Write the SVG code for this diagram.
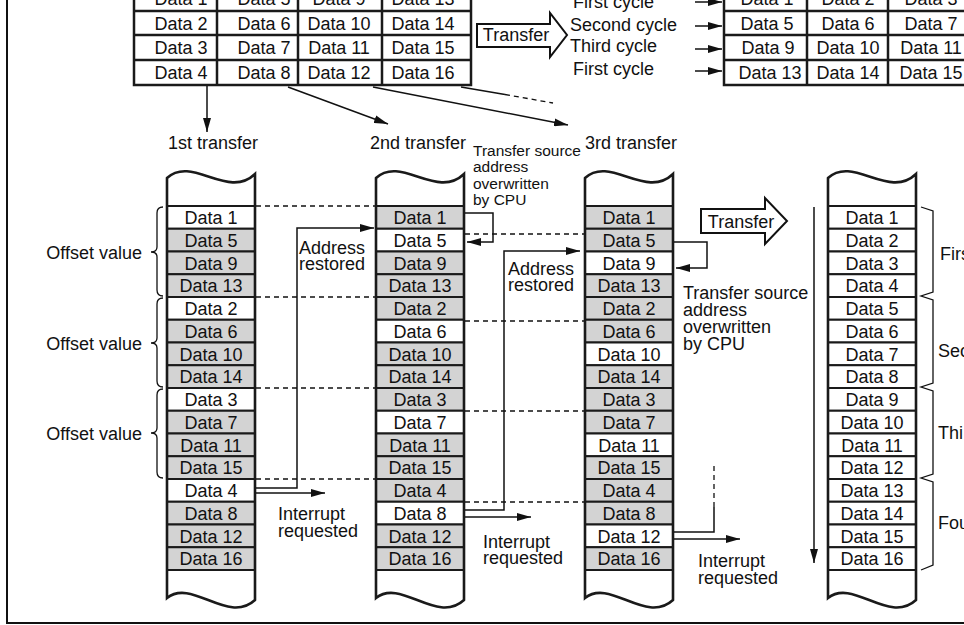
<svg xmlns="http://www.w3.org/2000/svg" width="964" height="625" viewBox="0 0 964 625">
<defs>
<style>
text{font-family:"Liberation Sans",Arial,sans-serif;font-size:18px;fill:#111}
.c{text-anchor:middle}
.e{text-anchor:end}
.s{font-size:15.5px}
.tb{fill:#fff;stroke:#1a1a1a;stroke-width:2.5}
.tl{stroke:#1a1a1a;stroke-width:2.5;fill:none}
.colfill{fill:#fff;stroke:none}
.colline{fill:none;stroke:#1a1a1a;stroke-width:2.6;stroke-linejoin:miter}
.g{fill:#d3d3d3;stroke:#1a1a1a;stroke-width:2}
.w{fill:#fff;stroke:#1a1a1a;stroke-width:2}
.ln{fill:none;stroke:#111;stroke-width:1.5}
.ar{fill:none;stroke:#111;stroke-width:1.5;marker-end:url(#ah)}
.da{fill:none;stroke:#111;stroke-width:1.3;stroke-dasharray:5 4}
.br{fill:none;stroke:#111;stroke-width:1.3}
.big{fill:#fff;stroke:#111;stroke-width:2;stroke-linejoin:miter}
</style>
<marker id="ah" markerWidth="14" markerHeight="8" refX="14" refY="4" orient="auto" markerUnits="userSpaceOnUse">
<path d="M0,0 L14,4 L0,8 z" fill="#111"/>
</marker>
</defs>
<rect width="964" height="625" fill="#fff"/>
<g id="frame">
<path d="M7,0 L7,623 L964,623" fill="none" stroke="#111" stroke-width="2"/>
</g>

<g id="source-table">
<rect class="tb" x="134" y="-14" width="337" height="99"/>
<path class="tl" d="M134,11 H471 M134,35 H471 M134,60 H471 M217,-14 V85 M298,-14 V85 M382,-14 V85"/>
<text class="c" x="181" y="5">Data 1</text><text class="c" x="264" y="5">Data 5</text><text class="c" x="339" y="5">Data 9</text><text class="c" x="423" y="5">Data 13</text>
<text class="c" x="181" y="29.5">Data 2</text><text class="c" x="264" y="29.5">Data 6</text><text class="c" x="339" y="29.5">Data 10</text><text class="c" x="423" y="29.5">Data 14</text>
<text class="c" x="181" y="54">Data 3</text><text class="c" x="264" y="54">Data 7</text><text class="c" x="339" y="54">Data 11</text><text class="c" x="423" y="54">Data 15</text>
<text class="c" x="181" y="79">Data 4</text><text class="c" x="264" y="79">Data 8</text><text class="c" x="339" y="79">Data 12</text><text class="c" x="423" y="79">Data 16</text>
</g>

<g id="transfer-arrow-top">
<path class="big" d="M477,24 L550,24 L550,13 L567,35 L550,57 L550,47 L477,47 Z"/>
<text class="c" x="516" y="41">Transfer</text>
</g>

<g id="cycle-labels">
<text x="573" y="8">First cycle</text>
<text x="570" y="30.5">Second cycle</text>
<text x="570" y="51.5">Third cycle</text>
<text x="573" y="74.5">First cycle</text>
</g>

<g id="dest-table">
<rect class="tb" x="724" y="-14" width="300" height="99"/>
<path class="tl" d="M724,11 H1024 M724,35 H1024 M724,60 H1024 M807,-14 V85 M888,-14 V85 M970,-14 V85"/>
<text class="c" x="767" y="5">Data 1</text><text class="c" x="848" y="5">Data 2</text><text class="c" x="931" y="5">Data 3</text>
<text class="c" x="767" y="29.5">Data 5</text><text class="c" x="848" y="29.5">Data 6</text><text class="c" x="931" y="29.5">Data 7</text>
<text class="c" x="768" y="54">Data 9</text><text class="c" x="848" y="54">Data 10</text><text class="c" x="931" y="54">Data 11</text>
<text class="c" x="770" y="79">Data 13</text><text class="c" x="848" y="79">Data 14</text><text class="c" x="931" y="79">Data 15</text>
</g>

<g id="transfer-labels">
<text x="168" y="148.5">1st transfer</text>
<text x="370" y="149">2nd transfer</text>
<text x="585" y="149">3rd transfer</text>
<text class="s" x="473" y="155.5">Transfer source<tspan x="473" dy="16.5">address</tspan><tspan x="473" dy="16.5">overwritten</tspan><tspan x="473" dy="16.5">by CPU</tspan></text>
</g>

<g id="col1">
<path class="colfill" d="M167,178 C192,155 228,200 255,174 L255,600 C228,625 192,578 167,598 Z"/>
<rect class="w" x="167" y="206" width="88" height="22.75"/><text class="c" x="211" y="224">Data 1</text>
<rect class="g" x="167" y="228.75" width="88" height="22.75"/><text class="c" x="211" y="246.75">Data 5</text>
<rect class="g" x="167" y="251.5" width="88" height="22.75"/><text class="c" x="211" y="269.5">Data 9</text>
<rect class="g" x="167" y="274.25" width="88" height="22.75"/><text class="c" x="211" y="292.25">Data 13</text>
<rect class="w" x="167" y="297" width="88" height="22.75"/><text class="c" x="211" y="315">Data 2</text>
<rect class="g" x="167" y="319.75" width="88" height="22.75"/><text class="c" x="211" y="337.75">Data 6</text>
<rect class="g" x="167" y="342.5" width="88" height="22.75"/><text class="c" x="211" y="360.5">Data 10</text>
<rect class="g" x="167" y="365.25" width="88" height="22.75"/><text class="c" x="211" y="383.25">Data 14</text>
<rect class="w" x="167" y="388" width="88" height="22.75"/><text class="c" x="211" y="406">Data 3</text>
<rect class="g" x="167" y="410.75" width="88" height="22.75"/><text class="c" x="211" y="428.75">Data 7</text>
<rect class="g" x="167" y="433.5" width="88" height="22.75"/><text class="c" x="211" y="451.5">Data 11</text>
<rect class="g" x="167" y="456.25" width="88" height="22.75"/><text class="c" x="211" y="474.25">Data 15</text>
<rect class="w" x="167" y="479" width="88" height="22.75"/><text class="c" x="211" y="497">Data 4</text>
<rect class="g" x="167" y="501.75" width="88" height="22.75"/><text class="c" x="211" y="519.75">Data 8</text>
<rect class="g" x="167" y="524.5" width="88" height="22.75"/><text class="c" x="211" y="542.5">Data 12</text>
<rect class="g" x="167" y="547.25" width="88" height="22.75"/><text class="c" x="211" y="565.25">Data 16</text>
<path class="colline" d="M167,178 C192,155 228,200 255,174 L255,600 C228,625 192,578 167,598 Z"/>
</g>

<g id="col2">
<path class="colfill" d="M376,178 C401,155 437,200 464,174 L464,600 C437,625 401,578 376,598 Z"/>
<rect class="g" x="376" y="206" width="88" height="22.75"/><text class="c" x="420" y="224">Data 1</text>
<rect class="w" x="376" y="228.75" width="88" height="22.75"/><text class="c" x="420" y="246.75">Data 5</text>
<rect class="g" x="376" y="251.5" width="88" height="22.75"/><text class="c" x="420" y="269.5">Data 9</text>
<rect class="g" x="376" y="274.25" width="88" height="22.75"/><text class="c" x="420" y="292.25">Data 13</text>
<rect class="g" x="376" y="297" width="88" height="22.75"/><text class="c" x="420" y="315">Data 2</text>
<rect class="w" x="376" y="319.75" width="88" height="22.75"/><text class="c" x="420" y="337.75">Data 6</text>
<rect class="g" x="376" y="342.5" width="88" height="22.75"/><text class="c" x="420" y="360.5">Data 10</text>
<rect class="g" x="376" y="365.25" width="88" height="22.75"/><text class="c" x="420" y="383.25">Data 14</text>
<rect class="g" x="376" y="388" width="88" height="22.75"/><text class="c" x="420" y="406">Data 3</text>
<rect class="w" x="376" y="410.75" width="88" height="22.75"/><text class="c" x="420" y="428.75">Data 7</text>
<rect class="g" x="376" y="433.5" width="88" height="22.75"/><text class="c" x="420" y="451.5">Data 11</text>
<rect class="g" x="376" y="456.25" width="88" height="22.75"/><text class="c" x="420" y="474.25">Data 15</text>
<rect class="g" x="376" y="479" width="88" height="22.75"/><text class="c" x="420" y="497">Data 4</text>
<rect class="w" x="376" y="501.75" width="88" height="22.75"/><text class="c" x="420" y="519.75">Data 8</text>
<rect class="g" x="376" y="524.5" width="88" height="22.75"/><text class="c" x="420" y="542.5">Data 12</text>
<rect class="g" x="376" y="547.25" width="88" height="22.75"/><text class="c" x="420" y="565.25">Data 16</text>
<path class="colline" d="M376,178 C401,155 437,200 464,174 L464,600 C437,625 401,578 376,598 Z"/>
</g>

<g id="col3">
<path class="colfill" d="M585,178 C610,155 646,200 673,174 L673,600 C646,625 610,578 585,598 Z"/>
<rect class="g" x="585" y="206" width="88" height="22.75"/><text class="c" x="629" y="224">Data 1</text>
<rect class="g" x="585" y="228.75" width="88" height="22.75"/><text class="c" x="629" y="246.75">Data 5</text>
<rect class="w" x="585" y="251.5" width="88" height="22.75"/><text class="c" x="629" y="269.5">Data 9</text>
<rect class="g" x="585" y="274.25" width="88" height="22.75"/><text class="c" x="629" y="292.25">Data 13</text>
<rect class="g" x="585" y="297" width="88" height="22.75"/><text class="c" x="629" y="315">Data 2</text>
<rect class="g" x="585" y="319.75" width="88" height="22.75"/><text class="c" x="629" y="337.75">Data 6</text>
<rect class="w" x="585" y="342.5" width="88" height="22.75"/><text class="c" x="629" y="360.5">Data 10</text>
<rect class="g" x="585" y="365.25" width="88" height="22.75"/><text class="c" x="629" y="383.25">Data 14</text>
<rect class="g" x="585" y="388" width="88" height="22.75"/><text class="c" x="629" y="406">Data 3</text>
<rect class="g" x="585" y="410.75" width="88" height="22.75"/><text class="c" x="629" y="428.75">Data 7</text>
<rect class="w" x="585" y="433.5" width="88" height="22.75"/><text class="c" x="629" y="451.5">Data 11</text>
<rect class="g" x="585" y="456.25" width="88" height="22.75"/><text class="c" x="629" y="474.25">Data 15</text>
<rect class="g" x="585" y="479" width="88" height="22.75"/><text class="c" x="629" y="497">Data 4</text>
<rect class="g" x="585" y="501.75" width="88" height="22.75"/><text class="c" x="629" y="519.75">Data 8</text>
<rect class="w" x="585" y="524.5" width="88" height="22.75"/><text class="c" x="629" y="542.5">Data 12</text>
<rect class="g" x="585" y="547.25" width="88" height="22.75"/><text class="c" x="629" y="565.25">Data 16</text>
<path class="colline" d="M585,178 C610,155 646,200 673,174 L673,600 C646,625 610,578 585,598 Z"/>
</g>

<g id="col4">
<path class="colfill" d="M828,178 C853,155 889,200 916,174 L916,600 C889,625 853,578 828,598 Z"/>
<rect class="w" x="828" y="206" width="88" height="22.75"/><text class="c" x="872" y="224">Data 1</text>
<rect class="w" x="828" y="228.75" width="88" height="22.75"/><text class="c" x="872" y="246.75">Data 2</text>
<rect class="w" x="828" y="251.5" width="88" height="22.75"/><text class="c" x="872" y="269.5">Data 3</text>
<rect class="w" x="828" y="274.25" width="88" height="22.75"/><text class="c" x="872" y="292.25">Data 4</text>
<rect class="w" x="828" y="297" width="88" height="22.75"/><text class="c" x="872" y="315">Data 5</text>
<rect class="w" x="828" y="319.75" width="88" height="22.75"/><text class="c" x="872" y="337.75">Data 6</text>
<rect class="w" x="828" y="342.5" width="88" height="22.75"/><text class="c" x="872" y="360.5">Data 7</text>
<rect class="w" x="828" y="365.25" width="88" height="22.75"/><text class="c" x="872" y="383.25">Data 8</text>
<rect class="w" x="828" y="388" width="88" height="22.75"/><text class="c" x="872" y="406">Data 9</text>
<rect class="w" x="828" y="410.75" width="88" height="22.75"/><text class="c" x="872" y="428.75">Data 10</text>
<rect class="w" x="828" y="433.5" width="88" height="22.75"/><text class="c" x="872" y="451.5">Data 11</text>
<rect class="w" x="828" y="456.25" width="88" height="22.75"/><text class="c" x="872" y="474.25">Data 12</text>
<rect class="w" x="828" y="479" width="88" height="22.75"/><text class="c" x="872" y="497">Data 13</text>
<rect class="w" x="828" y="501.75" width="88" height="22.75"/><text class="c" x="872" y="519.75">Data 14</text>
<rect class="w" x="828" y="524.5" width="88" height="22.75"/><text class="c" x="872" y="542.5">Data 15</text>
<rect class="w" x="828" y="547.25" width="88" height="22.75"/><text class="c" x="872" y="565.25">Data 16</text>
<path class="colline" d="M828,178 C853,155 889,200 916,174 L916,600 C889,625 853,578 828,598 Z"/>
</g>

<g id="offset-braces">
<path class="br" d="M163,207 Q157,207 157,213 L157,247 Q157,252 151,252 Q157,252 157,257 L157,290 Q157,296 163,296"/>
<path class="br" d="M163,298 Q157,298 157,304 L157,338 Q157,343 151,343 Q157,343 157,348 L157,381 Q157,387 163,387"/>
<path class="br" d="M163,389 Q157,389 157,395 L157,428 Q157,433 151,433 Q157,433 157,438 L157,472 Q157,478 163,478"/>
<text class="e" x="142" y="258.5">Offset value</text>
<text class="e" x="142" y="349.5">Offset value</text>
<text class="e" x="142" y="439.5">Offset value</text>
</g>

<g id="cycle-brackets">
<path class="br" d="M921,207 L933,211 L933,292 L921,296 L933,300 L933,383 L921,387 L933,391 L933,474 L921,478 L933,482 L933,565 L921,570"/>
<text x="940" y="259.5">Firs</text>
<text x="938" y="356.5">Sec</text>
<text x="938" y="438.5">Thi</text>
<text x="938" y="528.5">Fou</text>
</g>

<g id="transfer-arrow-mid">
<path class="big" d="M701,209 L765,209 L765,198 L787,221 L765,244 L765,233 L701,233 Z"/>
<text class="c" x="741" y="227.5">Transfer</text>
</g>

<g id="labels">
<text x="299" y="253.5">Address<tspan x="299" dy="16">restored</tspan></text>
<text x="508" y="274.5">Address<tspan x="508" dy="16.5">restored</tspan></text>
<text x="278" y="519.5">Interrupt<tspan x="278" dy="17">requested</tspan></text>
<text x="483" y="547.5">Interrupt<tspan x="483" dy="16">requested</tspan></text>
<text x="698" y="566.5">Interrupt<tspan x="698" dy="17">requested</tspan></text>
<text x="683" y="298.5">Transfer source<tspan x="683" dy="17">address</tspan><tspan x="683" dy="17">overwritten</tspan><tspan x="683" dy="17">by CPU</tspan></text>
</g>

<g id="connectors">
<path class="ar" d="M207,86 L207,132"/>
<path class="ar" d="M288,87 L388,124"/>
<path class="ar" d="M373,87 L568,125"/>
<path class="ln" d="M461,87 L505,94.5"/>
<path class="da" d="M505,94.5 L553,103"/>
<path class="ar" d="M695,2 L722,2"/>
<path class="ar" d="M695,26 L722,26"/>
<path class="ar" d="M695,49 L722,49"/>
<path class="ar" d="M695,71 L722,71"/>
<path class="da" d="M256,206 H375 M256,297 H375 M256,388 H375 M256,479 H375"/>
<path class="da" d="M465,234 H584 M465,321 H584 M465,411 H584 M465,502 H584"/>
<path class="ar" d="M256,488 L297,488 L297,228 L374,228"/>
<path class="ar" d="M256,493 L325,493"/>
<path class="ar" d="M465,510 L504,510 L504,251 L580,251"/>
<path class="ar" d="M465,517 L531,517"/>
<path class="ln" d="M674,532 L714,532 L714,507"/>
<path class="da" d="M714,507 L714,466"/>
<path class="ar" d="M674,539 L740,539"/>
<path class="ar" d="M465,213 L493,213 L493,242 L467,242"/>
<path class="ar" d="M674,242 L707,242 L707,268 L676,268"/>
<path class="ar" d="M814,207 L814,563"/>
</g>
</svg>
